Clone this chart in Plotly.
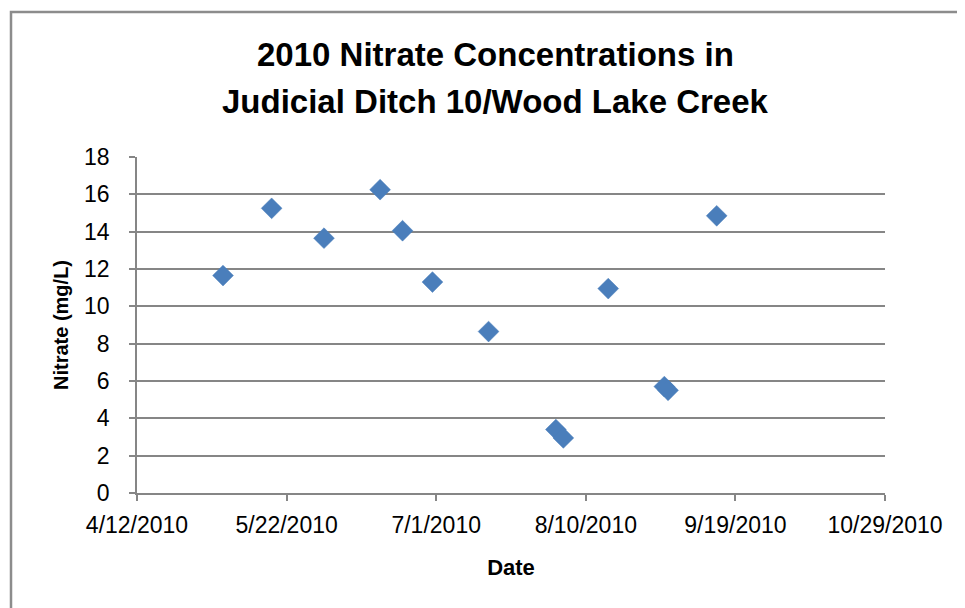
import plotly.graph_objects as go

dates = ["2010-05-05", "2010-05-18", "2010-06-01", "2010-06-16", "2010-06-22",
         "2010-06-30", "2010-07-15", "2010-08-02", "2010-08-04", "2010-08-16",
         "2010-08-31", "2010-09-01", "2010-09-14"]
nitrate = [11.65, 15.25, 13.65, 16.25, 14.05, 11.3, 8.65, 3.4, 2.95, 10.95, 5.7, 5.5, 14.85]

x_tick_vals = ["2010-04-12", "2010-05-22", "2010-07-01", "2010-08-10", "2010-09-19", "2010-10-29"]
x_tick_text = ["4/12/2010", "5/22/2010", "7/1/2010", "8/10/2010", "9/19/2010", "10/29/2010"]
y_tick_vals = [0, 2, 4, 6, 8, 10, 12, 14, 16, 18]
title_lines = ["2010 Nitrate Concentrations in", "Judicial Ditch 10/Wood Lake Creek"]

FONT = "Liberation Sans, Arial, sans-serif"
GRID = "#868686"

W, H = 957, 600
L, T, PW, PH = 129, 149, 748, 336
OFF = 8  # page offset of the figure in the browser window


def py(win_y):
    return 1 + (T - (win_y - OFF)) / PH


def px(win_x):
    return (win_x - OFF - L) / PW


fig = go.Figure()
fig.add_trace(go.Scatter(
    x=dates, y=nitrate, mode="markers",
    marker=dict(symbol="diamond", size=16, color="#4A7EBB",
                line=dict(width=0.5, color="#4A7EBB")),
    showlegend=False,
))

annotations = []
for line, wy in zip(title_lines, [55, 102]):
    annotations.append(dict(
        text=f"<b>{line}</b>", xref="paper", yref="paper",
        x=px(495), y=py(wy), xanchor="center", yanchor="middle",
        showarrow=False, font=dict(family=FONT, size=33, color="black"),
    ))

fig.update_layout(
    width=W, height=H,
    paper_bgcolor="white", plot_bgcolor="white",
    margin=dict(l=L, r=W - L - PW, t=T, b=H - T - PH, pad=0),
    font=dict(family=FONT, color="black", size=17),
    annotations=annotations,
    xaxis=dict(
        type="date", range=["2010-04-12", "2010-10-29"],
        tickmode="array", tickvals=x_tick_vals, ticktext=x_tick_text,
        showgrid=False, showline=True, linecolor=GRID, linewidth=1.5,
        ticks="outside", ticklen=6, tickcolor=GRID, tickwidth=1.5,
        ticklabelstandoff=5,
        tickfont=dict(size=23, family=FONT),
        title=dict(text="<b>Date</b>", font=dict(size=22, family=FONT), standoff=22),
        zeroline=False,
    ),
    yaxis=dict(
        range=[0, 18], tickmode="array", tickvals=y_tick_vals,
        showgrid=True, gridcolor=GRID, gridwidth=1.5,
        showline=True, linecolor=GRID, linewidth=1.5,
        ticks="outside", ticklen=6, tickcolor=GRID, tickwidth=1.5,
        ticklabelstandoff=15,
        tickfont=dict(size=23, family=FONT),
        title=dict(text="<b>Nitrate (mg/L)</b>", font=dict(size=20, family=FONT), standoff=10),
        zeroline=False,
    ),
    shapes=[dict(type="rect", xref="paper", yref="paper",
                 x0=(3 - L) / PW, x1=(W + 20 - L) / PW,
                 y0=-(H - T - PH + 20) / PH, y1=1 + (T - 4) / PH,
                 line=dict(color="#8c8c8c", width=2.5), fillcolor="rgba(0,0,0,0)",
                 layer="below")],
)

fig.write_html("out.html")
